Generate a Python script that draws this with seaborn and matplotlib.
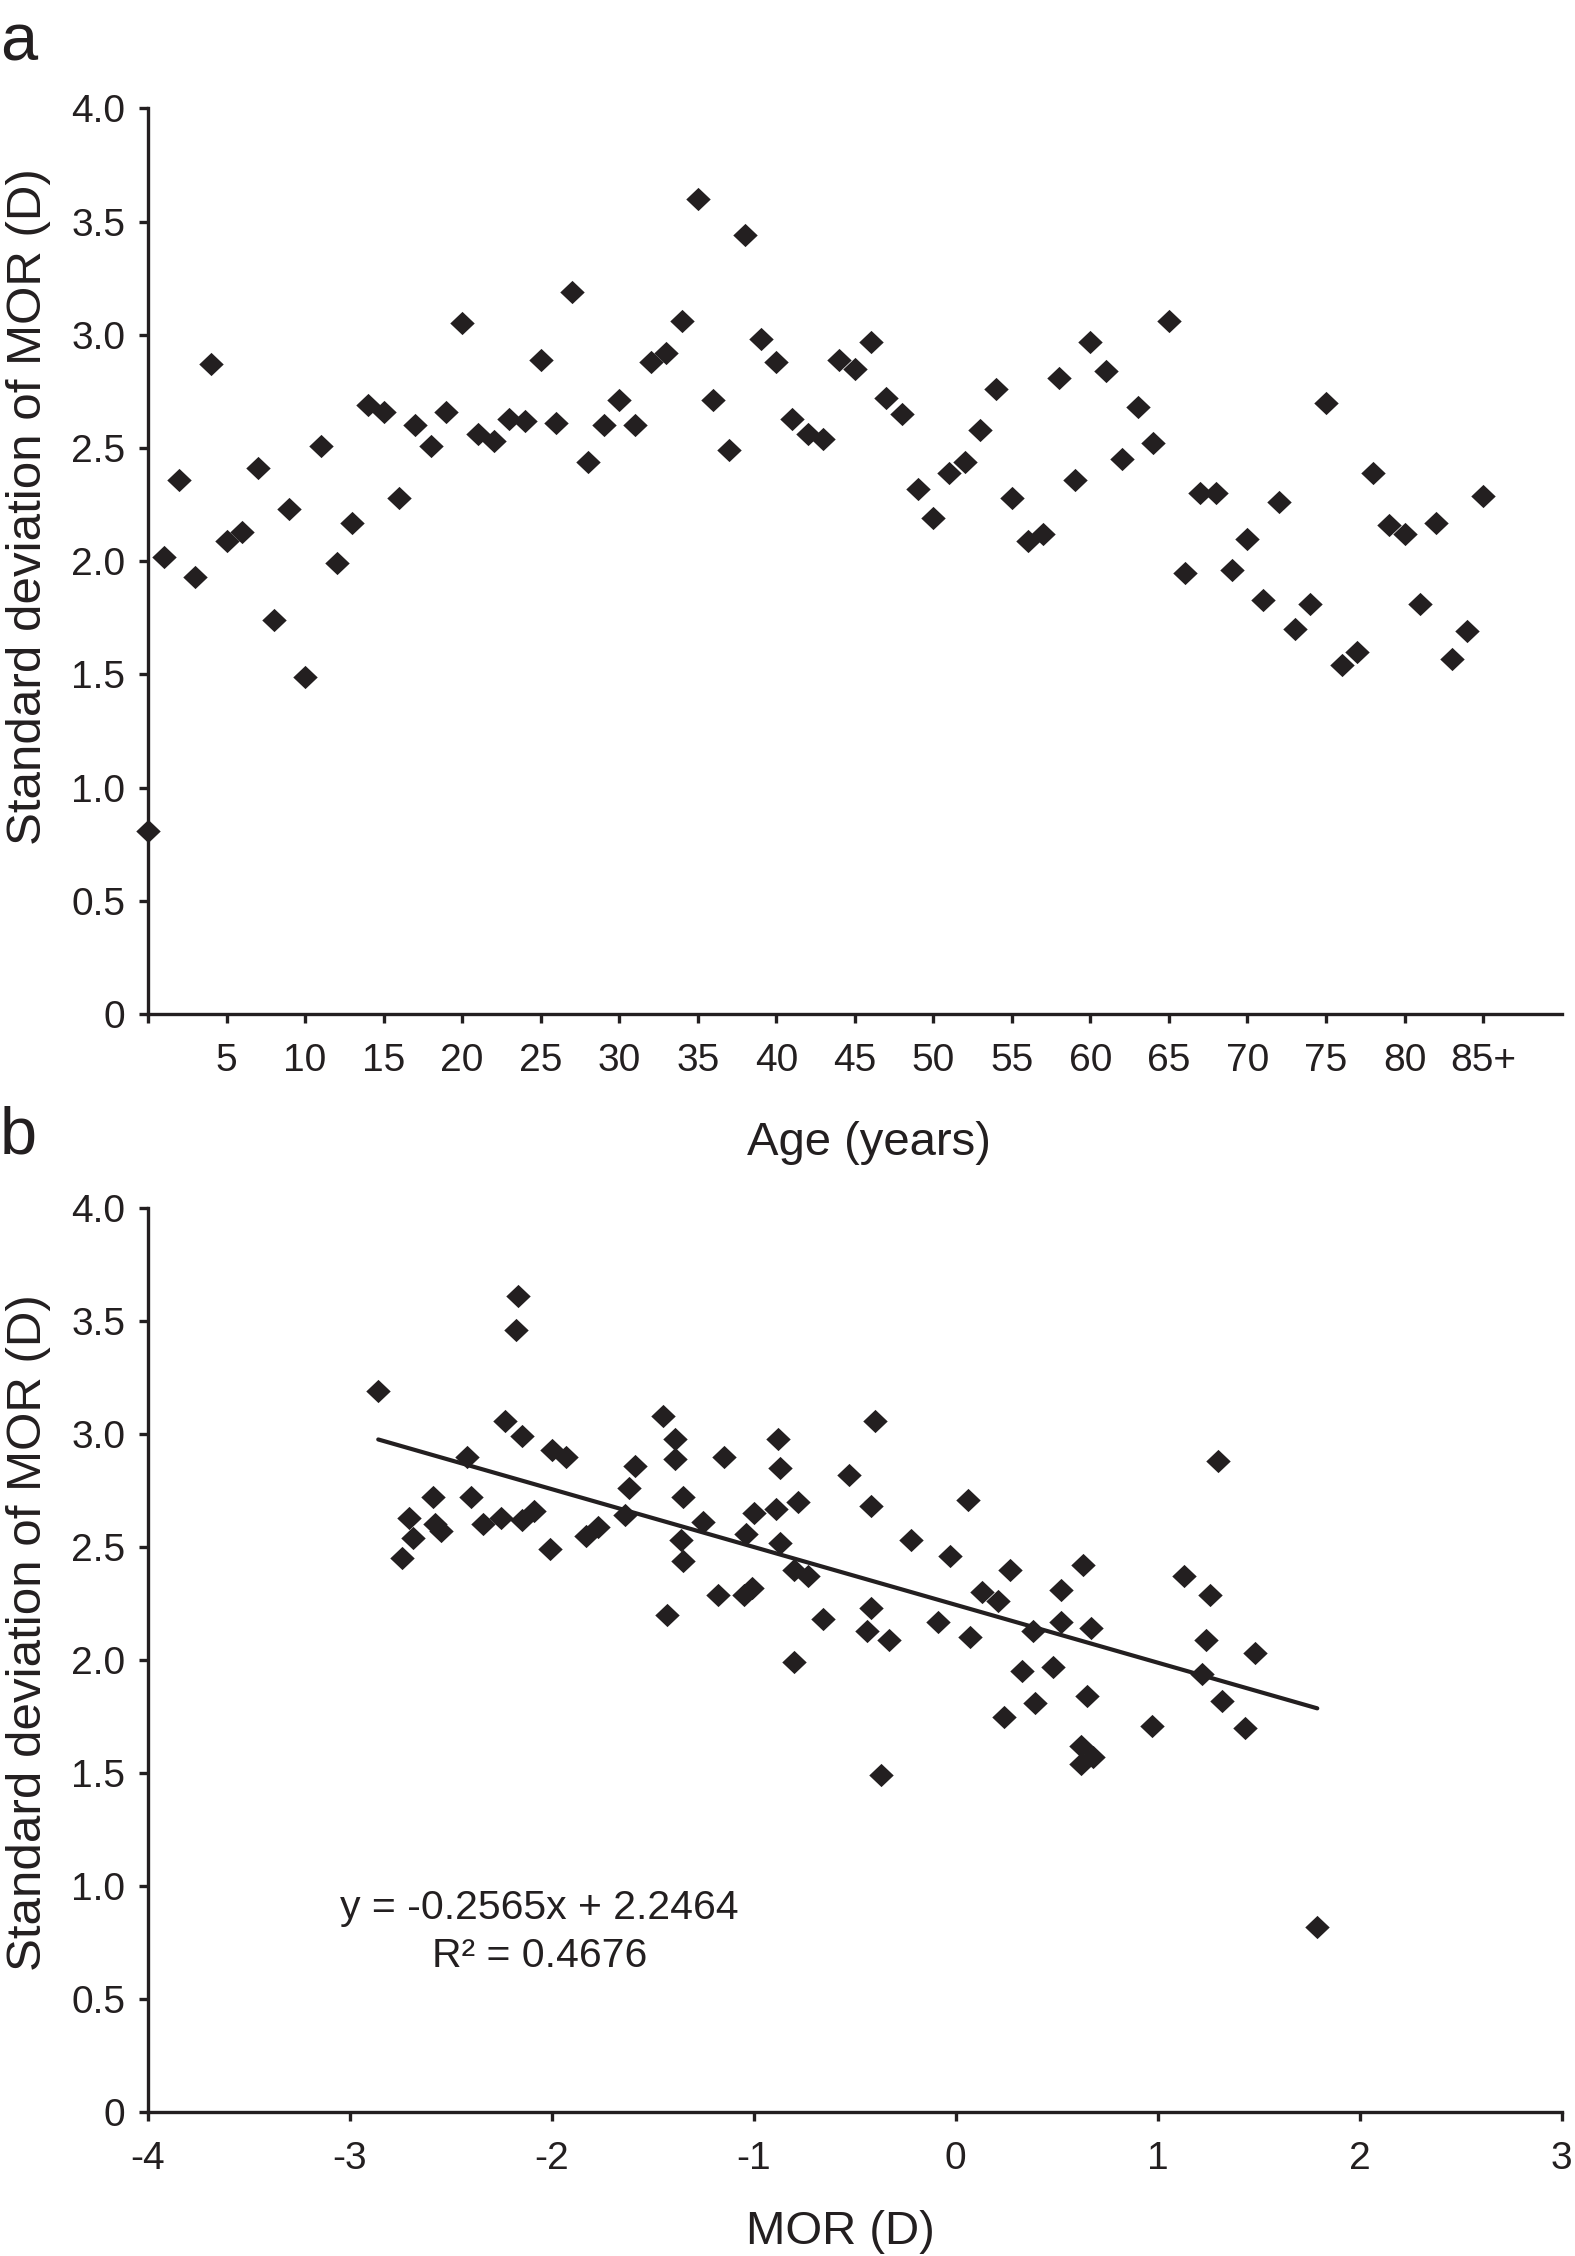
import numpy as np
import pandas as pd
import matplotlib
matplotlib.use("Agg")
import matplotlib.pyplot as plt
from matplotlib.path import Path
from matplotlib.markers import MarkerStyle
import seaborn as sns

# ---------------- data ----------------
age = list(range(0, 86))
sd_by_age = [0.81, 2.02, 2.36, 1.93, 2.87, 2.09, 2.13, 2.41, 1.74, 2.23,
             1.49, 2.51, 1.99, 2.17, 2.69, 2.66, 2.28, 2.60, 2.51, 2.66,
             3.05, 2.56, 2.53, 2.63, 2.62, 2.89, 2.61, 3.19, 2.44, 2.60,
             2.71, 2.60, 2.88, 2.92, 3.06, 3.60, 2.71, 2.49, 3.44, 2.98,
             2.88, 2.63, 2.56, 2.54, 2.89, 2.85, 2.97, 2.72, 2.65, 2.32,
             2.19, 2.39, 2.44, 2.58, 2.76, 2.28, 2.09, 2.12, 2.81, 2.36,
             2.97, 2.84, 2.45, 2.68, 2.52, 3.06, 1.95, 2.30, 2.30, 1.96,
             2.10, 1.83, 2.26, 1.70, 1.81, 2.70, 1.54, 1.60, 2.39, 2.16,
             2.12, 1.81, 2.17, 1.57, 1.69, 2.29]
age_ticks = list(range(0, 90, 5))
age_tick_labels = [""] + [str(v) for v in range(5, 85, 5)] + ["85+"]

mor = [-2.86, -2.17, -2.18, -2.23, -2.15, -2.00, -1.93, -2.42, -2.59, -2.40,
       -2.71, -2.25, -2.58, -2.55, -2.69, -2.34, -2.15, -2.09, -2.74, -2.01,
       -1.83, -1.77, -1.64, -1.62, -1.59, -1.45, -1.39, -1.39, -1.35, -1.36,
       -1.35, -1.43, -1.25, -1.15, -1.18, -1.04, -1.00, -1.05, -1.01, -0.88,
       -0.87, -0.89, -0.87, -0.40, -0.53, -0.78, -0.42, 0.06, 1.30, -0.22,
       -0.03, 0.27, 0.63, 1.13, 1.26, 0.13, 0.21, 0.52, -0.80, -0.73,
       -0.42, -0.66, -0.44, -0.33, -0.09, 0.07, 0.38, 0.52, 0.67, 1.24,
       1.48, -0.80, 0.33, 0.48, 1.22, 0.39, 0.65, 1.32, 0.24, 0.97,
       1.43, 0.62, 0.62, 0.68, -0.37, 1.79]
sd_by_mor = [3.19, 3.61, 3.46, 3.06, 2.99, 2.93, 2.90, 2.90, 2.72, 2.72,
             2.63, 2.63, 2.60, 2.57, 2.54, 2.60, 2.62, 2.66, 2.45, 2.49,
             2.55, 2.59, 2.64, 2.76, 2.86, 3.08, 2.98, 2.89, 2.72, 2.53,
             2.44, 2.20, 2.61, 2.90, 2.29, 2.56, 2.65, 2.29, 2.32, 2.98,
             2.85, 2.67, 2.52, 3.06, 2.82, 2.70, 2.68, 2.71, 2.88, 2.53,
             2.46, 2.40, 2.42, 2.37, 2.29, 2.30, 2.26, 2.31, 2.40, 2.37,
             2.23, 2.18, 2.13, 2.09, 2.17, 2.10, 2.13, 2.17, 2.14, 2.09,
             2.03, 1.99, 1.95, 1.97, 1.94, 1.81, 1.84, 1.82, 1.75, 1.71,
             1.70, 1.62, 1.54, 1.57, 1.49, 0.82]
mor_ticks = [-4, -3, -2, -1, 0, 1, 2, 3]
sd_ticks = [0, 0.5, 1.0, 1.5, 2.0, 2.5, 3.0, 3.5, 4.0]
sd_tick_labels = ["0", "0.5", "1.0", "1.5", "2.0", "2.5", "3.0", "3.5", "4.0"]
eq_line1 = "y = -0.2565x + 2.2464"
eq_line2 = "R\u00b2 = 0.4676"

df_a = pd.DataFrame({"age": age, "sd": sd_by_age})
df_b = pd.DataFrame({"mor": mor, "sd": sd_by_mor})

# ---------------- style ----------------
sns.set_style("ticks")
INK = "#231f20"
plt.rcParams["font.family"] = ["Liberation Sans", "DejaVu Sans"]
plt.rcParams["axes.unicode_minus"] = False
plt.rcParams["axes.edgecolor"] = INK
plt.rcParams["xtick.color"] = INK
plt.rcParams["ytick.color"] = INK
plt.rcParams["text.color"] = INK
plt.rcParams["axes.labelcolor"] = INK

diamond = MarkerStyle(Path([(0, 0.95), (1, 0), (0, -0.95), (-1, 0), (0, 0.95)],
                           [Path.MOVETO, Path.LINETO, Path.LINETO, Path.LINETO, Path.CLOSEPOLY]))

fig = plt.figure(figsize=(15.75, 22.56), dpi=100)
RIGHT = 0.9915
ax_a = fig.add_axes([0.094, 0.5505, RIGHT - 0.094, 0.952 - 0.5505])
ax_b = fig.add_axes([0.094, 0.0638, RIGHT - 0.094, 0.4645 - 0.0638])

TICK_FS = 28
LABEL_FS = 34
MARKER_S = 310


def style_axes(ax):
    for s in ["top", "right"]:
        ax.spines[s].set_visible(False)
    for s in ["left", "bottom"]:
        ax.spines[s].set_linewidth(2.4)
        ax.spines[s].set_color(INK)
    ax.tick_params(axis="both", direction="out", length=6.5, width=2.4,
                   labelsize=TICK_FS, colors=INK)
    ax.tick_params(axis="y", pad=10)
    ax.tick_params(axis="x", pad=14)
    ax.set_ylim(0, 4.0)
    ax.set_yticks(sd_ticks)
    ax.set_yticklabels(sd_tick_labels)
    ax.set_ylabel("Standard deviation of MOR (D)", fontsize=35.5)


# ---------------- panel a ----------------
sns.scatterplot(data=df_a, x="age", y="sd", ax=ax_a, marker=diamond, s=MARKER_S,
                color=INK, linewidth=0, clip_on=False, zorder=3)
style_axes(ax_a)
ax_a.set_xlim(0, 90)
ax_a.set_xticks(age_ticks)
ax_a.set_xticklabels(age_tick_labels)
ax_a.set_xlabel("Age (years)", fontsize=LABEL_FS)
ax_a.xaxis.set_label_coords(0.51, -0.118)
ax_a.yaxis.set_label_coords(-0.069, 0.56)

# ---------------- panel b ----------------
sns.scatterplot(data=df_b, x="mor", y="sd", ax=ax_b, marker=diamond, s=MARKER_S,
                color=INK, linewidth=0, clip_on=False, zorder=3)
sns.regplot(data=df_b, x="mor", y="sd", ax=ax_b, scatter=False, ci=None,
            truncate=True, line_kws={"color": INK, "linewidth": 3.0})
style_axes(ax_b)
ax_b.set_xlim(-4, 3)
ax_b.set_xticks(mor_ticks)
ax_b.set_xticklabels([str(v) for v in mor_ticks])
ax_b.set_xlabel("MOR (D)", fontsize=LABEL_FS)
ax_b.xaxis.set_label_coords(0.49, -0.108)
ax_b.yaxis.set_label_coords(-0.069, 0.53)

ax_b.text(-2.06, 0.856, eq_line1, ha="center", va="baseline", fontsize=29.5, color=INK)
ax_b.text(-2.06, 0.643, eq_line2, ha="center", va="baseline", fontsize=29.5, color=INK)

# panel letters
fig.text(0.0, 0.9734, "a", fontsize=48, ha="left", va="baseline", color=INK)
fig.text(0.0, 0.4889, "b", fontsize=48, ha="left", va="baseline", color=INK)

fig.savefig("out.png", dpi=100)
